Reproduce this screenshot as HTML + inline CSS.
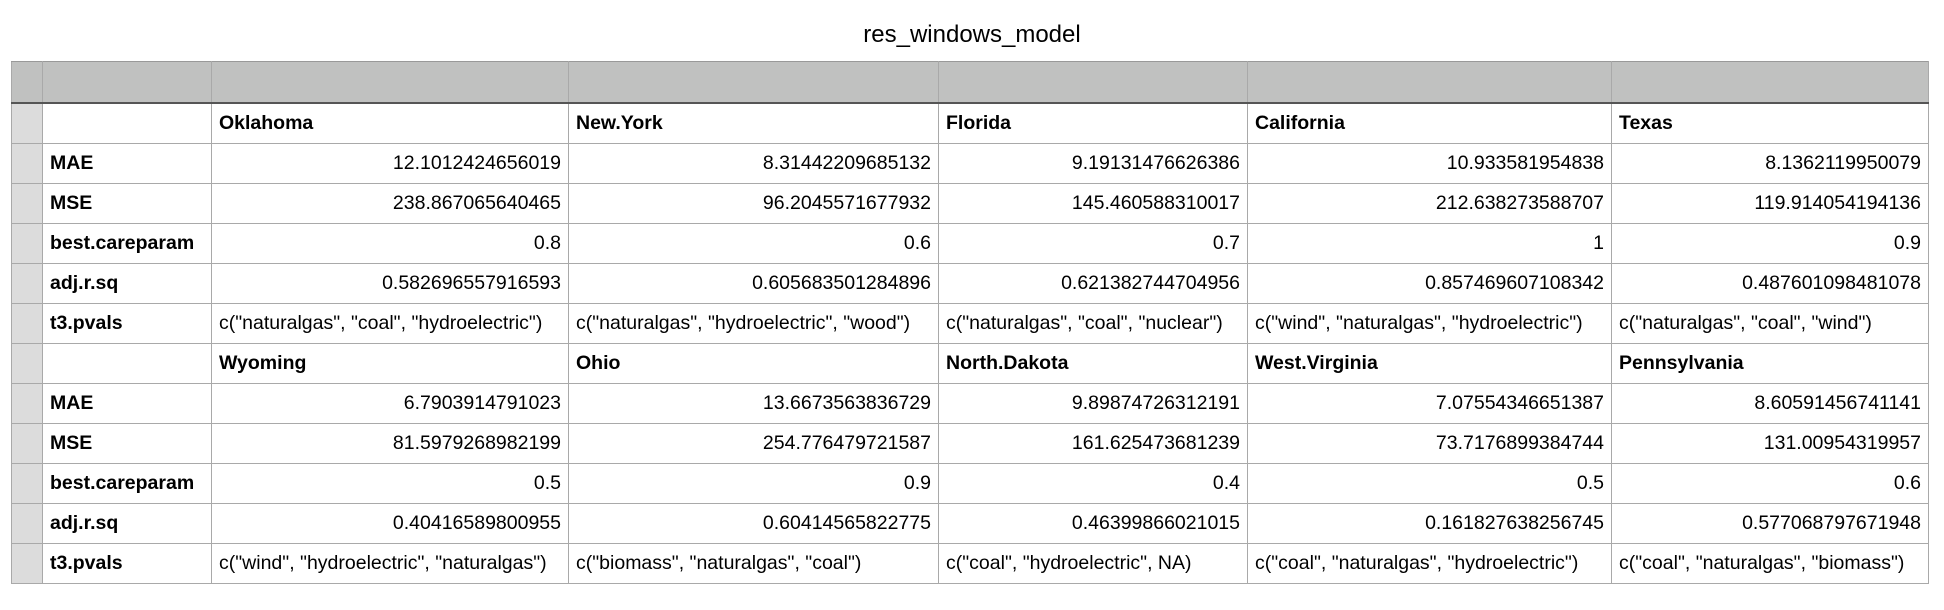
<!DOCTYPE html>
<html><head><meta charset="utf-8"><style>
body{margin:0;width:1944px;height:610px;background:#fff;font-family:"Liberation Sans",Arial,sans-serif;position:relative;overflow:hidden}
.t{position:absolute;top:21px;left:0;width:1944px;text-align:center;font-size:24px;color:#000}
table{position:absolute;left:11px;top:61px;border-collapse:collapse;table-layout:fixed;font-size:19.5px;color:#000}
td{border:1px solid #a9a9a9;height:39px;padding:0 7px;white-space:nowrap;overflow:hidden}
tr.h td{background:#c0c1c0;height:40px;border-bottom:2px solid #555;border-top:1px solid #999}
td.n{background:#dcdcdc;padding:0}
tr.h td.n{background:#c0c1c0}
td.b{font-weight:bold;font-size:19.5px}
td.r{text-align:right}
</style></head><body>
<div class="t">res_windows_model</div>
<table>
<colgroup><col style="width:31px"><col style="width:169px"><col style="width:357px"><col style="width:370px"><col style="width:309px"><col style="width:364px"><col style="width:317px"></colgroup>
<tr class="h"><td class="n"></td><td></td><td></td><td></td><td></td><td></td><td></td></tr>
<tr><td class="n"></td><td></td><td class="b">Oklahoma</td><td class="b">New.York</td><td class="b">Florida</td><td class="b">California</td><td class="b">Texas</td></tr>
<tr><td class="n"></td><td class="b">MAE</td><td class="r">12.1012424656019</td><td class="r">8.31442209685132</td><td class="r">9.19131476626386</td><td class="r">10.933581954838</td><td class="r">8.1362119950079</td></tr>
<tr><td class="n"></td><td class="b">MSE</td><td class="r">238.867065640465</td><td class="r">96.2045571677932</td><td class="r">145.460588310017</td><td class="r">212.638273588707</td><td class="r">119.914054194136</td></tr>
<tr><td class="n"></td><td class="b">best.careparam</td><td class="r">0.8</td><td class="r">0.6</td><td class="r">0.7</td><td class="r">1</td><td class="r">0.9</td></tr>
<tr><td class="n"></td><td class="b">adj.r.sq</td><td class="r">0.582696557916593</td><td class="r">0.605683501284896</td><td class="r">0.621382744704956</td><td class="r">0.857469607108342</td><td class="r">0.487601098481078</td></tr>
<tr><td class="n"></td><td class="b">t3.pvals</td><td>c("naturalgas", "coal", "hydroelectric")</td><td>c("naturalgas", "hydroelectric", "wood")</td><td>c("naturalgas", "coal", "nuclear")</td><td>c("wind", "naturalgas", "hydroelectric")</td><td>c("naturalgas", "coal", "wind")</td></tr>
<tr><td class="n"></td><td></td><td class="b">Wyoming</td><td class="b">Ohio</td><td class="b">North.Dakota</td><td class="b">West.Virginia</td><td class="b">Pennsylvania</td></tr>
<tr><td class="n"></td><td class="b">MAE</td><td class="r">6.7903914791023</td><td class="r">13.6673563836729</td><td class="r">9.89874726312191</td><td class="r">7.07554346651387</td><td class="r">8.60591456741141</td></tr>
<tr><td class="n"></td><td class="b">MSE</td><td class="r">81.5979268982199</td><td class="r">254.776479721587</td><td class="r">161.625473681239</td><td class="r">73.7176899384744</td><td class="r">131.00954319957</td></tr>
<tr><td class="n"></td><td class="b">best.careparam</td><td class="r">0.5</td><td class="r">0.9</td><td class="r">0.4</td><td class="r">0.5</td><td class="r">0.6</td></tr>
<tr><td class="n"></td><td class="b">adj.r.sq</td><td class="r">0.40416589800955</td><td class="r">0.60414565822775</td><td class="r">0.46399866021015</td><td class="r">0.161827638256745</td><td class="r">0.577068797671948</td></tr>
<tr><td class="n"></td><td class="b">t3.pvals</td><td>c("wind", "hydroelectric", "naturalgas")</td><td>c("biomass", "naturalgas", "coal")</td><td>c("coal", "hydroelectric", NA)</td><td>c("coal", "naturalgas", "hydroelectric")</td><td>c("coal", "naturalgas", "biomass")</td></tr>
</table>
</body></html>
